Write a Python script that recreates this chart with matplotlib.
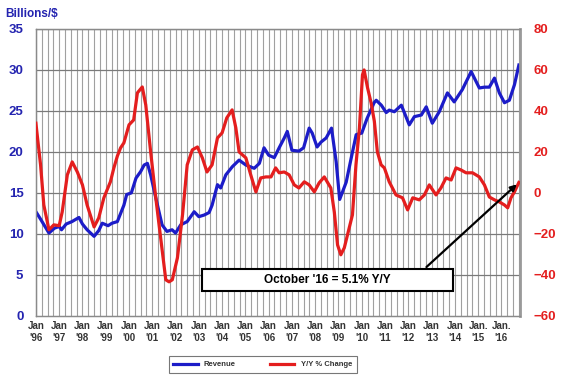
import numpy as np
import matplotlib
matplotlib.use("Agg")
import matplotlib.pyplot as plt
from matplotlib.patches import Rectangle

plt.rcParams['font.family'] = ['Liberation Sans', 'DejaVu Sans']

# revenue, billions $ (left axis)
rev_t = [1996.0, 1996.2, 1996.56, 1996.8, 1997.0, 1997.1, 1997.3, 1997.55, 1997.85, 1998.0,
         1998.2, 1998.5, 1998.7, 1998.85, 1999.1, 1999.27, 1999.5, 1999.78, 1999.9, 2000.1,
         2000.3, 2000.5, 2000.65, 2000.79, 2000.93, 2001.15, 2001.42, 2001.63, 2001.85, 2002.0,
         2002.22, 2002.5, 2002.8, 2003.0, 2003.23, 2003.44, 2003.57, 2003.8, 2003.94, 2004.16,
         2004.44, 2004.73, 2005.02, 2005.38, 2005.6, 2005.8, 2006.0, 2006.24, 2006.45, 2006.67,
         2006.8, 2007.0, 2007.3, 2007.5, 2007.74, 2007.87, 2008.08, 2008.25, 2008.47, 2008.7,
         2008.9, 2009.05, 2009.33, 2009.55, 2009.76, 2010.0, 2010.23, 2010.53, 2010.62, 2010.84,
         2011.05, 2011.18, 2011.4, 2011.7, 2012.04, 2012.26, 2012.56, 2012.77, 2013.03, 2013.33,
         2013.68, 2013.97, 2014.32, 2014.7, 2015.05, 2015.27, 2015.48, 2015.7, 2015.91, 2016.13,
         2016.34, 2016.56, 2016.75]
rev_v = [12.7, 11.8, 10.1, 10.7, 10.9, 10.5, 11.2, 11.5, 12.0, 11.2,
         10.5, 9.7, 10.4, 11.3, 11.0, 11.3, 11.5, 13.5, 14.8, 15.0,
         16.8, 17.6, 18.4, 18.6, 17.2, 14.4, 11.1, 10.3, 10.5, 10.1,
         11.1, 11.5, 12.7, 12.1, 12.3, 12.6, 13.5, 16.0, 15.6, 17.2,
         18.2, 19.0, 18.4, 18.0, 18.6, 20.5, 19.6, 19.3, 20.5, 21.7,
         22.5, 20.2, 20.1, 20.5, 22.9, 22.3, 20.6, 21.2, 21.7, 22.9,
         18.8, 14.2, 16.3, 19.3, 22.1, 22.3, 24.1, 26.0, 26.3, 25.7,
         24.8, 25.1, 24.9, 25.7, 23.3, 24.3, 24.5, 25.5, 23.5, 24.9,
         27.2, 26.1, 27.6, 29.8, 27.8, 27.9, 27.9, 29.0, 27.2, 26.0,
         26.3, 28.2, 30.6]

# year over year change, % (right axis)
yoy_t = [1996.0, 1996.2, 1996.34, 1996.56, 1996.77, 1997.0, 1997.13, 1997.35, 1997.56, 1997.78,
         1998.0, 1998.2, 1998.5, 1998.7, 1998.92, 1999.2, 1999.35, 1999.5, 1999.64, 1999.78,
         2000.0, 2000.2, 2000.36, 2000.57, 2000.72, 2000.93, 2001.15, 2001.36, 2001.58, 2001.72,
         2001.86, 2002.08, 2002.3, 2002.5, 2002.72, 2002.94, 2003.15, 2003.35, 2003.57, 2003.8,
         2004.0, 2004.2, 2004.43, 2004.59, 2004.73, 2005.02, 2005.23, 2005.45, 2005.66, 2005.88,
         2006.1, 2006.3, 2006.45, 2006.67, 2006.88, 2007.1, 2007.3, 2007.53, 2007.74, 2007.96,
         2008.17, 2008.39, 2008.67, 2008.82, 2008.96, 2009.1, 2009.25, 2009.46, 2009.6, 2009.75,
         2009.9, 2010.03, 2010.1, 2010.25, 2010.4, 2010.54, 2010.67, 2010.83, 2010.97, 2011.18,
         2011.47, 2011.75, 2011.97, 2012.19, 2012.47, 2012.69, 2012.9, 2013.19, 2013.4, 2013.62,
         2013.84, 2014.05, 2014.26, 2014.48, 2014.76, 2015.05, 2015.27, 2015.48, 2015.7, 2015.91,
         2016.13, 2016.27, 2016.41, 2016.56, 2016.75]
yoy_v = [34, 13.7, -5.9, -18, -15.6, -16, -9.3, 8.8, 15.1, 10.2,
         3.9, -5.9, -16.6, -12.2, -2.4, 5.4, 12.2, 18, 22, 24.4,
         33.2, 35.6, 48.8, 51.7, 42.9, 20, -2.4, -22, -42.4, -43.4,
         -42.4, -31.7, -10.7, 13.7, 21, 22.4, 17.1, 10.2, 13.7, 26.8,
         29.3, 36.6, 40.5, 31.7, 20, 17.1, 8.8, 0.5, 7.3, 7.8,
         7.8, 12.2, 9.8, 10.2, 8.8, 3.9, 2.4, 5.4, 3.9, 0.5,
         4.9, 7.8, 2.4, -9.3, -25.4, -30.2, -26.8, -17.1, -10.7, 13.7,
         31.7, 57.6, 60, 51.2, 44, 35, 20, 13.7, 12.2, 5.4,
         -1, -2.4, -8.3, -2.4, -3.4, -1, 3.9, -1, 2.4, 7.3,
         6.3, 12.2, 11.2, 9.8, 9.8, 7.8, 3.9, -2, -3.4, -4.4,
         -5.9, -7.3, -2.4, 0.5, 5.1]

years = list(range(1996, 2017))
year_labels = ["Jan\n'96", "Jan\n'97", "Jan\n'98", "Jan\n'99", "Jan\n'00", "Jan\n'01", "Jan\n'02",
               "Jan\n'03", "Jan\n'04", "Jan\n'05", "Jan\n'06", "Jan\n'07", "Jan\n'08", "Jan\n'09",
               "Jan\n'10", "Jan\n'11", "Jan\n'12", "Jan\n'13", "Jan\n'14", "Jan.\n'15", "Jan.\n'16"]

blue = '#1c1cc8'
red = '#e41e1e'

fig = plt.figure(figsize=(5.61, 3.76), dpi=100)
ax = fig.add_axes([0.064, 0.16, 0.863, 0.763])
ax2 = ax.twinx()

xmin, xmax = 1996.0, 2016.8
ax.set_xlim(xmin, xmax)
ax.set_ylim(0, 35)
ax2.set_ylim(-60, 80)

# quarterly vertical grid
for q in np.arange(1996.0, 2016.8, 0.25):
    ax.axvline(q, color='#a0a0a0', lw=0.8, zorder=0)
for h in range(5, 35, 5):
    ax.axhline(h, color='#7a7a7a', lw=0.9, zorder=0)
ax.axhline(35, color='#999999', lw=0.9, zorder=0)

ax.plot(rev_t, rev_v, color=blue, lw=2.3, zorder=3, label='Revenue')
ax2.plot(yoy_t, yoy_v, color=red, lw=2.3, zorder=3, label='Y/Y % Change')

ax.set_yticks(range(0, 36, 5))
ax.tick_params(axis='y', length=0, pad=9, labelsize=9.5, labelcolor='#2424b0')
for t in ax.get_yticklabels():
    t.set_fontweight('bold')
ax2.set_yticks(range(-60, 81, 20))
ax2.tick_params(axis='y', length=0, pad=10, labelsize=9.5, labelcolor=red)
for t in ax2.get_yticklabels():
    t.set_fontweight('bold')

ax.set_xticks(years)
ax.set_xticklabels(year_labels, fontsize=7, fontweight='bold', color='#333333', linespacing=1.15)
ax.tick_params(axis='x', length=0, pad=4)

for a in (ax, ax2):
    for s in a.spines.values():
        s.set_color('#8a8a8a')
        s.set_linewidth(0.9)
ax2.spines['right'].set_linewidth(2.0)
ax2.spines['right'].set_color('#9a9a9a')

fig.text(0.01, 0.962, 'Billions/$', color='#2424b0', fontsize=8.5, fontweight='bold', va='center')

# callout
ax2.add_patch(Rectangle((0.343, 0.087), 0.519, 0.077, transform=ax2.transAxes,
                        facecolor='white', edgecolor='black', lw=1.5, zorder=5))
ax2.text(0.6025, 0.125, "October '16 = 5.1% Y/Y", transform=ax2.transAxes, ha='center',
         va='center', fontsize=8.5, fontweight='bold', zorder=6)
ax2.annotate('', xy=(yoy_t[-1], yoy_v[-1]), xytext=(2012.69, -37.1),
             arrowprops=dict(arrowstyle='-|>', color='black', lw=1.6, mutation_scale=9),
             zorder=6)

h1, l1 = ax.get_legend_handles_labels()
h2, l2 = ax2.get_legend_handles_labels()
leg = fig.legend(h1 + h2, l1 + l2, loc='center', bbox_to_anchor=(0.468, 0.03), ncol=2,
                 fontsize=5.5, frameon=True, fancybox=False, edgecolor='#555555',
                 handlelength=3.2, columnspacing=4.5, borderpad=0.6)
leg.get_frame().set_linewidth(0.8)
for t in leg.get_texts():
    t.set_fontweight('bold')
    t.set_color('#333333')

fig.savefig('out.png', dpi=100)
